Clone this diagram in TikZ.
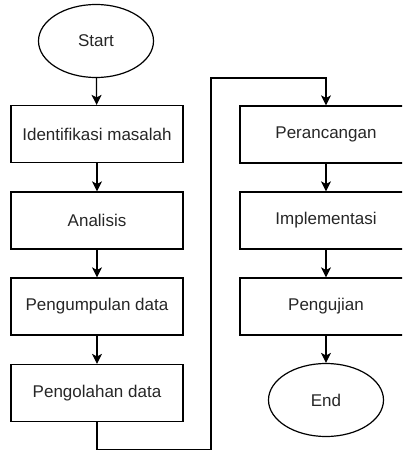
\documentclass[tikz,border=0pt]{standalone}
\usepackage{fontspec}
\setmainfont{Liberation Sans}
\usetikzlibrary{arrows.meta,shapes.geometric}
\begin{document}
\begin{tikzpicture}[x=1pt,y=-1pt,
  lbl/.style={font=\fontsize{17}{20}\selectfont, text=black!85},
  box/.style={lbl, draw, line width=1.2pt, minimum width=172pt, minimum height=57pt, inner sep=0pt},
  term/.style={lbl, draw, ellipse, line width=1.2pt, minimum width=115pt, minimum height=73pt, inner sep=0pt},
  arr/.style={line width=1.2pt, -{Stealth[length=10pt,width=10pt,inset=2.5pt]}}]
\useasboundingbox (0,0) rectangle (402,450);
\clip (0,0) rectangle (402,450);
\node[term] (start) at (96,41) {Start};
\node[box] (b1) at (97,134) {Identifikasi masalah};
\node[box] (b2) at (97,220.5) {Analisis};
\node[box] (b3) at (97,306.5) {Pengumpulan data};
\node[box] (b4) at (97,393) {Pengolahan data};
\node[box] (b5) at (326,134.5) {Perancangan};
\node[box] (b6) at (326,220.5) {Implementasi};
\node[box] (b7) at (326,306.5) {Pengujian};
\node[term] (end) at (326,400) {End};
\coordinate (c1) at (97,450);
\coordinate (c2) at (211,450);
\coordinate (c3) at (211,78);
\coordinate (c4) at (326,78);
\draw[arr] (start) -- (b1);
\draw[arr] (b1) -- (b2);
\draw[arr] (b2) -- (b3);
\draw[arr] (b3) -- (b4);
\draw[arr] (b4.south) -- (c1) -- (c2) -- (c3) -- (c4) -- (b5.north);
\draw[arr] (b5) -- (b6);
\draw[arr] (b6) -- (b7);
\draw[arr] (b7) -- (end);
\end{tikzpicture}
\end{document}
